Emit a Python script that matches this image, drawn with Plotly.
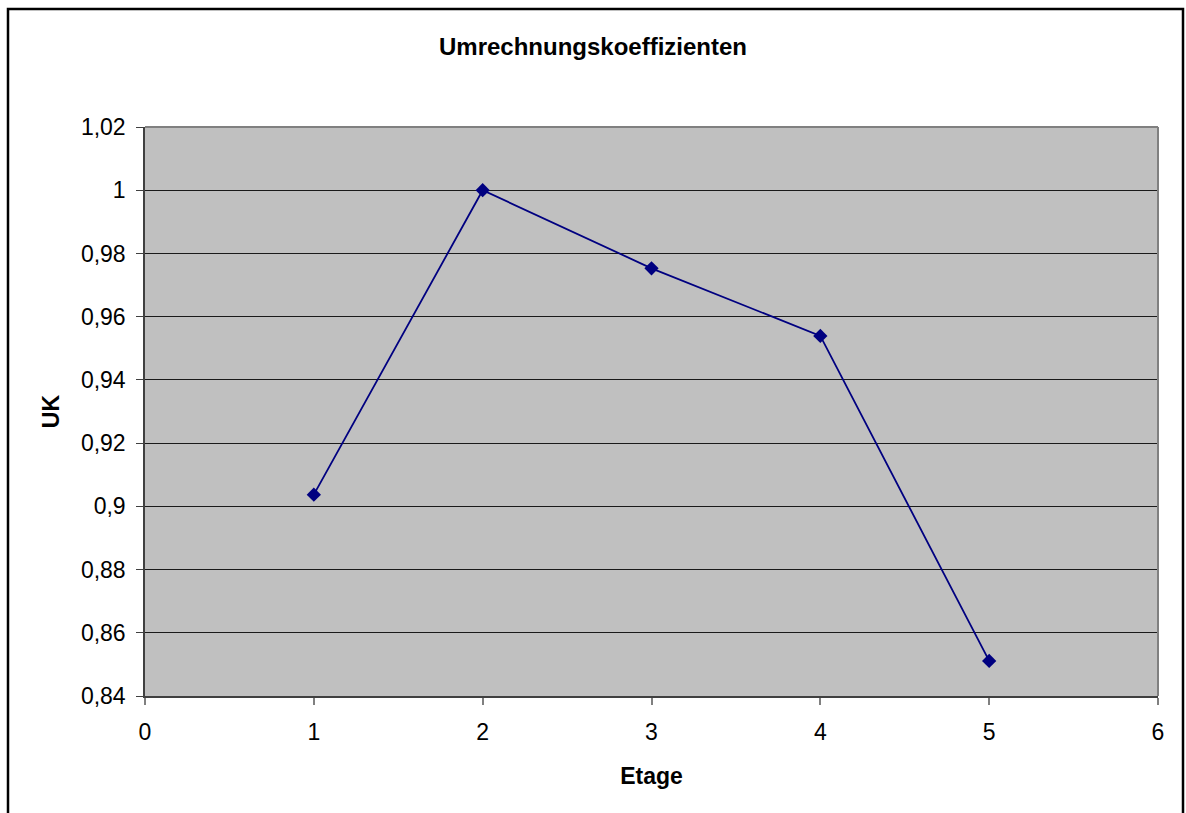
import plotly.graph_objects as go

# Floors (Etage) and conversion coefficients (UK)
etage = [1, 2, 3, 4, 5]
uk = [0.9037, 1.0, 0.9753, 0.9539, 0.8511]

x_ticks = [0, 1, 2, 3, 4, 5, 6]
y_ticks = [0.84, 0.86, 0.88, 0.90, 0.92, 0.94, 0.96, 0.98, 1.00, 1.02]
y_labels = ["0,84", "0,86", "0,88", "0,9", "0,92", "0,94", "0,96", "0,98", "1", "1,02"]

FONT = "Liberation Sans, Arial, sans-serif"

fig = go.Figure(
    go.Scatter(
        x=etage,
        y=uk,
        mode="lines+markers",
        line=dict(color="#000080", width=1.8),
        marker=dict(symbol="diamond", size=11, color="#000080"),
        showlegend=False,
    )
)

fig.update_layout(
    width=1186,
    height=813,
    margin=dict(l=145, r=28, t=127, b=117),
    paper_bgcolor="white",
    plot_bgcolor="#C0C0C0",
    font=dict(family=FONT, color="black", size=23),
    title=dict(
        text="<b>Umrechnungskoeffizienten</b>",
        x=0.5,
        xanchor="center",
        y=1 - 47 / 813,
        yanchor="middle",
        font=dict(size=24),
    ),
    xaxis=dict(
        range=[0, 6],
        tickvals=x_ticks,
        ticktext=[str(v) for v in x_ticks],
        showgrid=False,
        zeroline=False,
        showline=True,
        linecolor="#404040",
        linewidth=1.5,
        ticks="outside",
        ticklen=7,
        tickcolor="#808080",
        tickwidth=2,
        ticklabelstandoff=8,
        tickfont=dict(size=23),
        title=dict(text="<b>Etage</b>", font=dict(size=23), standoff=24),
    ),
    yaxis=dict(
        range=[0.84, 1.02],
        tickvals=y_ticks,
        ticktext=y_labels,
        showgrid=True,
        gridcolor="#1a1a1a",
        gridwidth=1,
        zeroline=False,
        showline=True,
        linecolor="#404040",
        linewidth=1.5,
        ticks="outside",
        ticklen=7,
        tickcolor="#404040",
        tickwidth=1,
        ticklabelstandoff=6,
        tickfont=dict(size=23),
        title=dict(text="<b>UK</b>", font=dict(size=23), standoff=15),
    ),
    shapes=[
        # plot area frame (top and right edges)
        dict(type="line", xref="paper", yref="paper", x0=0, x1=1, y0=1, y1=1,
             line=dict(color="#808080", width=2)),
        dict(type="line", xref="paper", yref="paper", x0=1, x1=1, y0=0, y1=1,
             line=dict(color="#808080", width=2)),
        # outer chart border
        dict(type="rect", xref="paper", yref="paper",
             x0=(8 - 145) / 1013, x1=(1183 - 145) / 1013,
             y0=-0.3, y1=(696 - 9) / 569,
             line=dict(color="black", width=2.5), layer="below"),
    ],
)

fig.write_html("out.html")
